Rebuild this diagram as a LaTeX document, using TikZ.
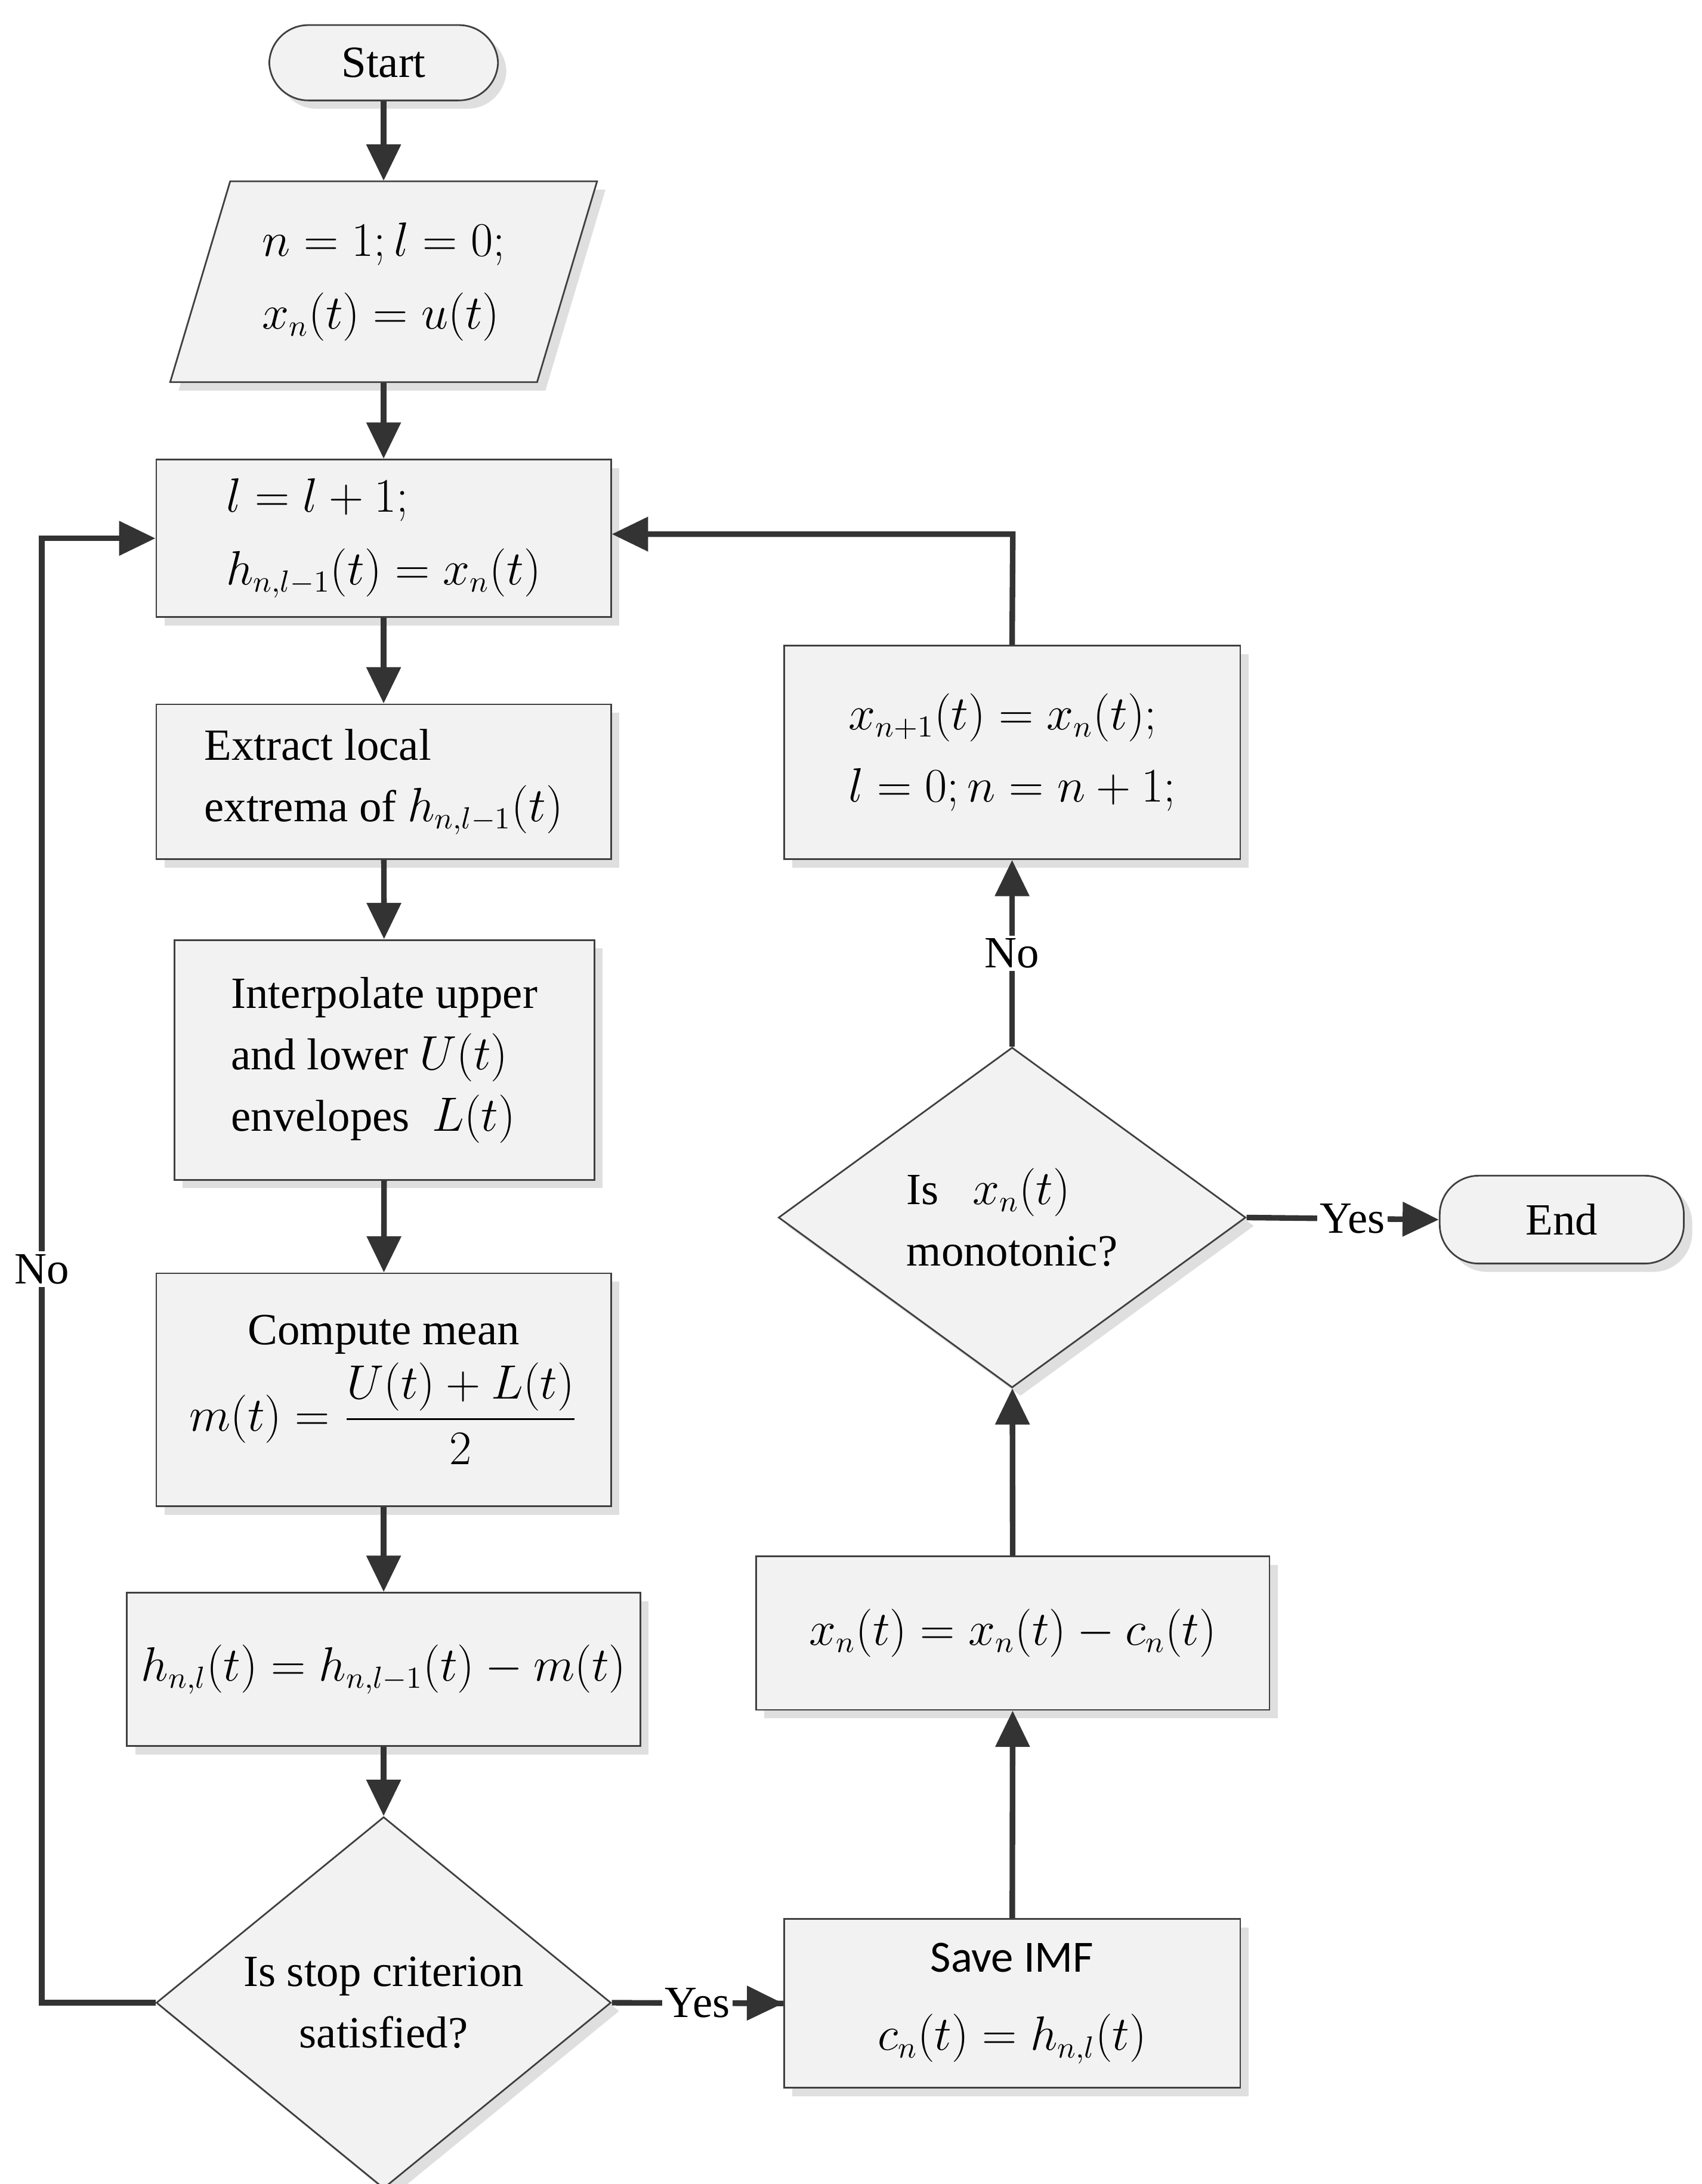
\documentclass[tikz,border=0pt]{standalone}
\usepackage{amsmath}
\usepackage{fontspec}
\setmainfont{Liberation Serif}
\newfontfamily\sansf{Carlito}
\usetikzlibrary{shapes.geometric,arrows.meta,shadows}
\begin{document}
\begin{tikzpicture}[x=0.5pt,y=-0.5pt,
  font=\fontsize{16}{22}\selectfont,
  shd/.style={drop shadow={shadow xshift=3pt,shadow yshift=-3pt,fill=gray!25,opacity=1}},
  box/.style={draw=black!75,line width=0.6pt,fill=black!5,shd,inner sep=2pt},
  dia/.style={diamond,draw=black!75,line width=0.6pt,fill=black!5,shd,inner sep=0pt},
  term/.style={rounded corners=14pt,draw=black!75,line width=0.6pt,fill=black!5,shd},
  arr/.style={draw=black!80,line width=2pt,-{Triangle[length=13pt,width=12pt]}},
  ln/.style={draw=black!80,line width=2pt}]
\useasboundingbox (0,0) rectangle (1220,1566);
\node[term,minimum width=82pt,minimum height=27pt] (start) at (275,45) {Start};
\fill[gray!25] (171,136)--(434,136)--(391,280)--(128,280)--cycle;
\draw[black!75,line width=0.6pt,fill=black!5] (165,130)--(428,130)--(385,274)--(122,274)--cycle;
\node[minimum width=131pt,minimum height=72pt,align=left] (para) at (275,202)
  {$n=1;l=0;$\\[4pt] $x_n(t)=u(t)$};
\node[box,minimum width=163pt,minimum height=56.5pt,align=left] (b1) at (275,386)
  {$l=l+1;$\\[4pt] $h_{n,l-1}(t)=x_n(t)$\hspace{3em}};
\node[box,minimum width=163pt,minimum height=55.5pt,align=left] (b2) at (275,560.5)
  {Extract local\\ extrema of $h_{n,l-1}(t)$};
\node[box,minimum width=150.5pt,minimum height=86pt,align=left] (b3) at (275.5,760)
  {Interpolate upper\\ and lower $U(t)$\\ envelopes\ \ $L(t)$\hspace{1em}};
\node[box,minimum width=163pt,minimum height=83.5pt,align=center] (b4) at (275,996.5)
  {Compute mean\\[2pt] $m(t)=\dfrac{U(t)+L(t)}{2}$};
\node[box,minimum width=184pt,minimum height=55pt] (b5) at (275,1197)
  {$h_{n,l}(t)=h_{n,l-1}(t)-m(t)$};
\node[dia,minimum width=163pt,minimum height=122pt,align=center] (d1) at (275,1436)
  {Is stop criterion\\ satisfied?};
\node[box,minimum width=163.5pt,minimum height=60.5pt,align=center] (s) at (725.5,1436.5)
  {{\sansf Save IMF}\\[6pt] $c_n(t)=h_{n,l}(t)$};
\node[box,minimum width=184pt,minimum height=55pt] (x) at (726,1171)
  {$x_n(t)=x_n(t)-c_n(t)$};
\node[dia,minimum width=167.5pt,minimum height=122pt,align=left] (d2) at (725.5,873)
  {Is\ \ \ $x_n(t)$\\ monotonic?\hspace{1.5em}};
\node[box,minimum width=163.5pt,minimum height=76.5pt,align=left] (b6) at (725.5,539.5)
  {$x_{n+1}(t)=x_n(t);$\\[4pt] $l=0;n=n+1;$};
\node[term,minimum width=87.5pt,minimum height=31.5pt] (end) at (1119.5,874.5) {End};
\draw[arr] (start) -- (para);
\draw[arr] (para) -- (b1);
\draw[arr] (b1) -- (b2);
\draw[arr] (b2) -- (b3);
\draw[arr] (b3) -- (b4);
\draw[arr] (b4) -- (b5);
\draw[arr] (b5) -- (d1);
\draw[arr] (d1.west) -- (30,1436) -- (30,386) -- (b1.west);
\node[fill=white,inner sep=1pt] (no1) at (30,910) {No};
\draw[ln] (d1.east) -- (s.west) node[pos=0.5,fill=white,inner sep=1pt] (yes1) {Yes};
\draw[arr] (yes1.east) -- (s.west);
\draw[arr] (s) -- (x);
\draw[arr] (x) -- (d2);
\draw[arr] (d2) -- (b6) node[pos=0.5,fill=white,inner sep=1pt] (no2) {No};
\draw[arr] (b6.north) -- (726,383) -- (b1.east|-726,383);
\draw[arr] (d2.east) -- (end.west) node[pos=0.55,fill=white,inner sep=1pt] (yes2) {Yes};
\end{tikzpicture}
\end{document}
